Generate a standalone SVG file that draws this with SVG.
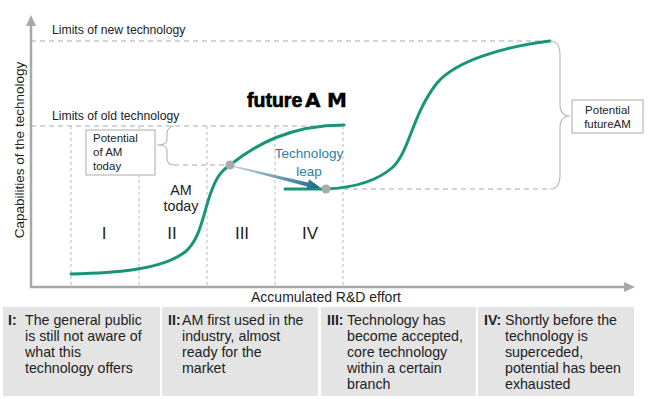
<svg xmlns="http://www.w3.org/2000/svg" width="650" height="399" viewBox="0 0 650 399">
<style>
text{font-family:"Liberation Sans",Arial,sans-serif;fill:#222}
.lbl{font-size:12.2px}
.small{font-size:11.5px}
.dash{stroke:#aaa;stroke-width:1.2;stroke-dasharray:5 4;fill:none}
.vdash{stroke:#bbb;stroke-width:1;stroke-dasharray:3 3;fill:none}
.axis{stroke:#a8a8a8;stroke-width:2.5;fill:none}
.curve{stroke:#179677;stroke-width:3;fill:none;stroke-linecap:round}
.brace{stroke:#bbb;stroke-width:1.2;fill:none}
.box{fill:#e4e4e4}
.btxt{font-size:14.2px}
.dot{fill:#aaa}
</style>
<defs>
<linearGradient id="leap" gradientUnits="userSpaceOnUse" x1="232" y1="166" x2="320" y2="188">
<stop offset="0" stop-color="#c9d6df"/>
<stop offset="1" stop-color="#1d6a8e"/>
</linearGradient>
</defs>
<rect width="650" height="399" fill="#fff"/>
<g id="guides">
<line class="dash" x1="31" y1="41" x2="550" y2="41"/>
<line class="dash" x1="31" y1="126" x2="344" y2="126"/>
<line class="dash" x1="326" y1="189" x2="550" y2="189"/>
<line class="dash" x1="174" y1="165" x2="230" y2="165"/>
<line class="vdash" x1="71" y1="126" x2="71" y2="287"/>
<line class="vdash" x1="139" y1="126" x2="139" y2="287"/>
<line class="vdash" x1="207" y1="126" x2="207" y2="287"/>
<line class="vdash" x1="275" y1="126" x2="275" y2="287"/>
<line class="vdash" x1="343" y1="126" x2="343" y2="287"/>
</g>
<g id="axes">
<polyline class="axis" points="31,24 31,287 626,287"/>
<polygon points="31,15 26,26 36,26" fill="#a8a8a8"/>
<polygon points="635,287 624,282 624,292" fill="#a8a8a8"/>
<text transform="translate(24,150) rotate(-90)" text-anchor="middle" font-size="13.5">Capabilities of the technology</text>
<text x="326" y="302" text-anchor="middle" font-size="14">Accumulated R&amp;D effort</text>
</g>
<g id="limit-labels">
<text class="lbl" x="52" y="34">Limits of new technology</text>
<text class="lbl" x="52" y="120">Limits of old technology</text>
</g>
<g id="title">
<text x="247" y="107" font-weight="bold" font-size="19.5" fill="#000" stroke="#000" stroke-width="0.7" style="fill:#000">future<tspan x="305" font-family="'DejaVu Sans',sans-serif" font-size="20" stroke-width="0.4">A</tspan><tspan x="327" font-family="'DejaVu Sans',sans-serif" font-size="20" stroke-width="0.4">M</tspan></text>
</g>
<g id="connectors">
<path class="curve" d="M71,274 C110,273 160,271 185,252 C200,240 203,215 210,195 C216,178 220,172 230,165 C255,145 290,125 344,125"/>
<path class="curve" d="M285,189 L326,189 C350,188 375,183 393,167 C410,150 412,115 437,83 C455,62 500,47 550,41"/>
<polygon fill="url(#leap)" points="232.2,165.3 308.2,182.6 309.0,179.2 320.4,187.6 306.4,189.8 307.2,186.4 231.8,166.7"/>
<path class="brace" d="M174,126 Q167,127 167,134 L167,140 Q167,145 157,145 Q167,145 167,150 L167,158 Q167,165 174,165"/>
<path class="brace" d="M550,41 Q560,41 560,55 L560,104 Q560,116 570,116 Q560,116 560,128 L560,175 Q560,189 550,189"/>
<circle class="dot" cx="230" cy="165" r="4.5"/>
<circle class="dot" cx="326" cy="189" r="4.5"/>
</g>
<g id="potential-today">
<rect x="86" y="130" width="69" height="45" fill="#fff" stroke="#aaa" stroke-width="1"/>
<text class="small" x="93" y="142">Potential</text>
<text class="small" x="93" y="156">of AM</text>
<text class="small" x="93" y="170">today</text>
</g>
<g id="potential-future">
<rect x="572" y="100" width="71" height="33" fill="#fff" stroke="#aaa" stroke-width="1"/>
<text class="small" x="607.5" y="114" text-anchor="middle">Potential</text>
<text class="small" x="607.5" y="127.5" text-anchor="middle">futureAM</text>
</g>
<g id="am-today">
<text x="181" y="195" text-anchor="middle" font-size="14.3">AM</text>
<text x="181" y="211" text-anchor="middle" font-size="14.3">today</text>
</g>
<g id="tech-leap">
<text x="309" y="158" text-anchor="middle" font-size="13.5" style="fill:#2c7fa5">Technology</text>
<text x="309" y="176" text-anchor="middle" font-size="13.5" style="fill:#2c7fa5">leap</text>
</g>
<g id="phases" font-size="17">
<text x="104" y="239" text-anchor="middle">I</text>
<text x="172" y="239" text-anchor="middle">II</text>
<text x="242" y="239" text-anchor="middle">III</text>
<text x="310" y="239" text-anchor="middle">IV</text>
</g>
<g id="box1">
<rect class="box" x="3" y="307" width="157" height="89"/>
<text class="btxt" x="8" y="325" font-weight="bold">I:</text>
<text class="btxt" x="25" y="325">The general public</text>
<text class="btxt" x="25" y="341">is still not aware of</text>
<text class="btxt" x="25" y="357">what this</text>
<text class="btxt" x="25" y="373">technology offers</text>
</g>
<g id="box2">
<rect class="box" x="162" y="307" width="156" height="89"/>
<text class="btxt" x="168" y="325" font-weight="bold">II:</text>
<text class="btxt" x="182" y="325">AM first used in the</text>
<text class="btxt" x="182" y="341">industry, almost</text>
<text class="btxt" x="182" y="357">ready for the</text>
<text class="btxt" x="182" y="373">market</text>
</g>
<g id="box3">
<rect class="box" x="321" y="307" width="155" height="89"/>
<text class="btxt" x="327" y="325" font-weight="bold">III:</text>
<text class="btxt" x="347" y="325">Technology has</text>
<text class="btxt" x="347" y="341">become accepted,</text>
<text class="btxt" x="347" y="357">core technology</text>
<text class="btxt" x="347" y="373">within a certain</text>
<text class="btxt" x="347" y="389">branch</text>
</g>
<g id="box4">
<rect class="box" x="478" y="307" width="156" height="89"/>
<text class="btxt" x="484" y="325" font-weight="bold">IV:</text>
<text class="btxt" x="505" y="325">Shortly before the</text>
<text class="btxt" x="505" y="341">technology is</text>
<text class="btxt" x="505" y="357">superceded,</text>
<text class="btxt" x="505" y="373">potential has been</text>
<text class="btxt" x="505" y="389">exhausted</text>
</g>
</svg>
